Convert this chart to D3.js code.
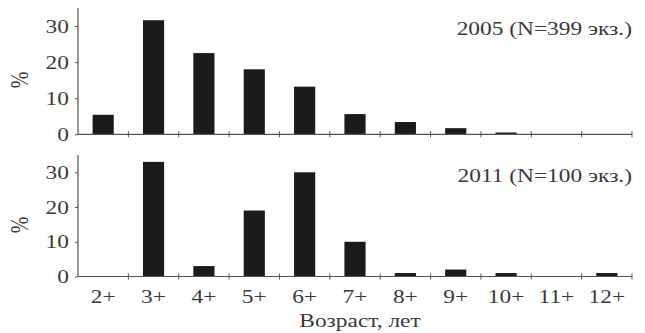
<!DOCTYPE html>
<html><head><meta charset="utf-8">
<script src="https://cdn.jsdelivr.net/npm/d3@7"></script>
<style>body{margin:0;background:#fff}svg{display:block}text{font-family:"Liberation Serif","Times New Roman",serif;fill:#3a3a3a}</style>
</head><body><svg id="c" width="645" height="333"></svg>
<script>
const categories = ["2+","3+","4+","5+","6+","7+","8+","9+","10+","11+","12+"];
const values2005 = [5.4, 31.6, 22.5, 18.0, 13.2, 5.6, 3.4, 1.7, 0.5, 0, 0];
const values2011 = [0, 33, 3, 19, 30, 10, 1, 2, 1, 0, 1];
const yTicks = [0, 10, 20, 30];
const panelLabels = ["2005 (N=399 экз.)", "2011 (N=100 экз.)"];
const xTitle = "Возраст, лет";
const yTitle = "%";

const svg = d3.select("#c");
const SX = 1.3, FS = 18;
const x = d3.scaleBand().domain(categories).range([78, 632]).paddingInner(0.58).paddingOuter(0.29);
const step = x.step();

const panels = [
  {vals: values2005, y0: 134.3, y30: 26, label: panelLabels[0], ly: 35, ty: 80},
  {vals: values2011, y0: 276.5, y30: 172.3, label: panelLabels[1], ly: 182, ty: 225}
];
const axisColor = "#555";

function stext(g, tx, ty, str, anchor) {
  return g.append("text").attr("transform", `translate(${tx},${ty}) scale(${SX},1)`)
    .attr("text-anchor", anchor).attr("font-size", FS).text(str);
}

panels.forEach((p, i) => {
  const y = d3.scaleLinear().domain([0, 30]).range([p.y0, p.y30]);
  const g = svg.append("g");
  g.selectAll("rect").data(p.vals).join("rect")
    .attr("x", (d, j) => x(categories[j]))
    .attr("width", x.bandwidth())
    .attr("y", d => y(d))
    .attr("height", d => y(0) - y(d))
    .attr("fill", "#1b1b1b");
  const ya = d3.axisLeft(y).tickValues(yTicks).tickSize(3).tickPadding(6);
  const yg = g.append("g").attr("transform", "translate(78,0)").call(ya);
  yg.attr("font-family", null);
  yg.select(".domain").attr("d", `M0,${y(35)}V${y(0)}`).attr("stroke", axisColor).attr("stroke-width", 1.2);
  yg.selectAll(".tick line").attr("stroke", axisColor);
  yg.selectAll(".tick text").each(function() {
    d3.select(this).attr("x", null).attr("dy", null).attr("font-size", FS)
      .attr("transform", `translate(-9,6) scale(${SX},1)`).attr("text-anchor", "end");
  });
  const xr = x.range();
  g.append("line").attr("x1", xr[0]).attr("x2", xr[1]).attr("y1", y(0)).attr("y2", y(0))
    .attr("stroke", axisColor).attr("stroke-width", 1.2);
  const bounds = categories.map((c, j) => xr[0] + j * step);
  bounds.push(xr[1]);
  g.selectAll("line.xt").data(bounds.slice(1)).join("line").attr("class", "xt")
    .attr("x1", d => d).attr("x2", d => d).attr("y1", y(0) - 3).attr("y2", y(0) + 3)
    .attr("stroke", axisColor);
  stext(g, 632, p.ly, p.label, "end");
  g.append("text").attr("transform", `translate(28,${p.ty}) rotate(-90) scale(1,${SX})`)
    .attr("text-anchor", "middle").attr("font-size", 20).text(yTitle);
  if (i === 1) {
    categories.forEach(c => stext(g, x(c) + x.bandwidth() / 2, 303, c, "middle"));
  }
});
stext(svg, 360, 327, xTitle, "middle");
</script></body></html>
